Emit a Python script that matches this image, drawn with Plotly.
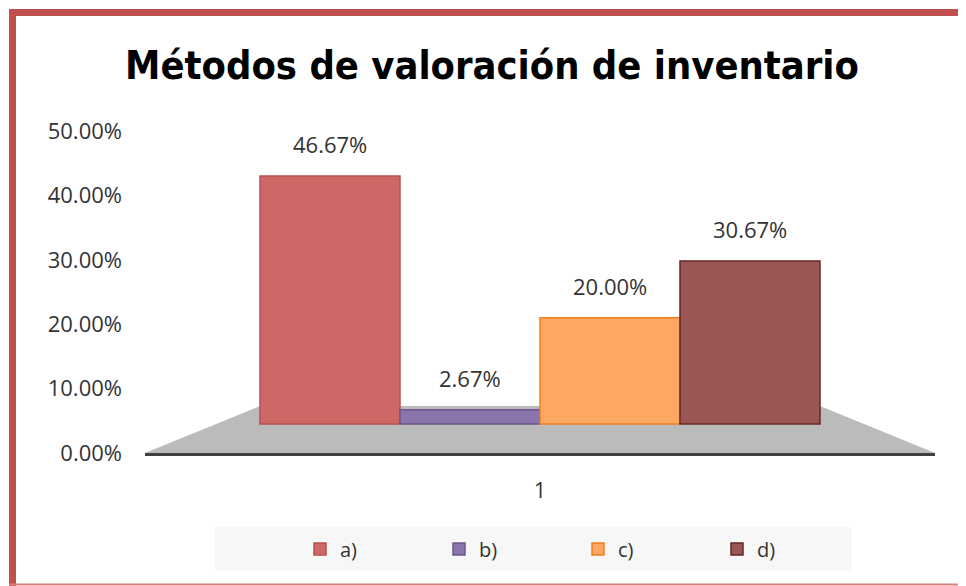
import plotly.graph_objects as go

# ---- data ----
series_names = ["a)", "b)", "c)", "d)"]
values = [0.4667, 0.0267, 0.2000, 0.3067]
category_label = "1"
title_text = "Métodos de valoración de inventario"
ytick_vals = [0, 0.1, 0.2, 0.3, 0.4, 0.5]

fill_colors = ["#CC6966", "#8B73AB", "#FCA862", "#9A5654"]
line_colors = ["#B9504D", "#6E5490", "#F07F1C", "#6A2626"]

# page has an 8px body margin; figure placed at (8, 8) in the screenshot
OFF = 8
W, H = 966 - OFF, 586 - OFF
# plot area in screenshot coords: x 145..935, y 110..453
SL, SR, ST, SB = 145, 935, 110, 453
L, T = SL - OFF, ST - OFF
R = W - (SR - OFF)
B = H - (SB - OFF)
PW, PH = SR - SL, SB - ST

def px(x):   # screenshot x -> paper
    return (x - SL) / PW

def py(y):   # screenshot y -> paper
    return (SB - y) / PH

fig = go.Figure()
# empty helper trace so the tick axis (y) is drawn
fig.add_trace(go.Scatter(x=[], y=[], yaxis="y", showlegend=False, hoverinfo="skip"))
for i, (n, v) in enumerate(zip(series_names, values)):
    fig.add_trace(go.Bar(
        x=[i], y=[v], name=n, width=1.0,
        marker=dict(color=fill_colors[i], line=dict(color=line_colors[i], width=1.5)),
        yaxis="y2", hoverinfo="skip",
    ))
    fig.add_annotation(
        x=i, y=v, xref="x", yref="y2", text=f"{v*100:.2f}%",
        showarrow=False, yanchor="bottom", yshift=15,
        font=dict(family="Open Sans, sans-serif", size=22, color="#333333"),
    )

# x scale: 140 px per unit, bars from -0.5..3.5 starting at screenshot pixel 260
unit = 140.0
x0 = -0.5 - (260 - SL) / unit
x1 = x0 + PW / unit

# y (tick) axis: 0 at 453, 0.5 at 131
yscale = (453 - 131) / 0.5
# y2 (bars): 0 at 424, 46.67% at 176
y2scale = (424 - 176) / 0.4667
y2min = -(SB - 424) / y2scale
y2max = y2min + PH / y2scale

shapes = []
# floor
shapes.append(dict(
    type="path", xref="paper", yref="paper", layer="below",
    path=f"M {px(145)},{py(453)} L {px(935)},{py(453)} L {px(820)},{py(406)} L {px(260)},{py(406)} Z",
    fillcolor="#BBBBBB", line=dict(width=0),
))
# legend background
shapes.append(dict(
    type="rect", xref="paper", yref="paper", layer="below",
    x0=px(215), x1=px(852), y0=py(571), y1=py(527),
    fillcolor="#F7F7F7", line=dict(width=0),
))
# chart border (red)
shapes.append(dict(type="line", xref="paper", yref="paper",
                   x0=px(9), x1=px(990), y0=py(12.5), y1=py(12.5),
                   line=dict(color="#C0504D", width=7)))
shapes.append(dict(type="line", xref="paper", yref="paper",
                   x0=px(12.5), x1=px(12.5), y0=py(9), y1=py(600),
                   line=dict(color="#C0504D", width=7)))
shapes.append(dict(type="line", xref="paper", yref="paper",
                   x0=px(9), x1=px(990), y0=py(584.5), y1=py(584.5),
                   line=dict(color="#D9807D", width=2)))

fig.update_layout(
    width=W, height=H,
    margin=dict(l=L, r=R, t=T, b=B, pad=0),
    paper_bgcolor="white", plot_bgcolor="rgba(0,0,0,0)",
    barmode="overlay",
    title=dict(text=f"<b>{title_text}</b>", x=(492 - OFF) / W, xref="container", xanchor="center",
               y=1 - (65 - OFF) / H, yanchor="middle",
               font=dict(family="DejaVu Sans Condensed, DejaVu Sans, sans-serif",
                         size=39.5, color="#000000")),
    xaxis=dict(range=[x0, x1], tickvals=[1.5], ticktext=[category_label],
               showgrid=False, zeroline=False, showline=True, linecolor="#404040", linewidth=3,
               ticks="", ticklabelstandoff=17,
               tickfont=dict(family="Open Sans, sans-serif", size=21, color="#333333")),
    yaxis=dict(type="linear", range=[0, PH / yscale], tickvals=ytick_vals, tickformat=".2%",
               showgrid=False, zeroline=False, showline=False, ticks="",
               ticklabelstandoff=22, automargin=False,
               tickfont=dict(family="Open Sans, sans-serif", size=22, color="#333333")),
    yaxis2=dict(type="linear", range=[y2min, y2max], overlaying="y", visible=False),
    showlegend=True,
    legend=dict(orientation="h", xref="container", yref="container",
                x=(300 - OFF) / W, xanchor="left", y=1 - (549 - OFF) / H, yanchor="middle",
                bgcolor="rgba(0,0,0,0)", entrywidth=94, entrywidthmode="pixels",
                font=dict(family="Open Sans, sans-serif", size=20, color="#333333"),
                traceorder="normal"),
    shapes=shapes,
)

fig.write_html("out.html")
